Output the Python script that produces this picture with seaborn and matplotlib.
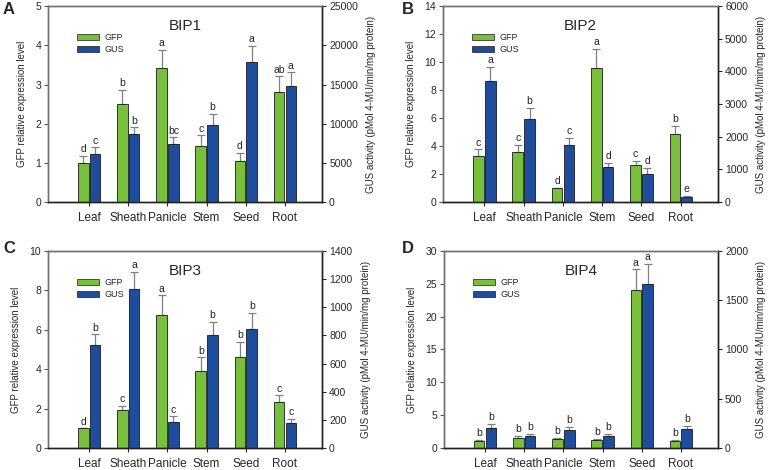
import matplotlib
matplotlib.use('Agg')  # Use non-GUI backend

import matplotlib.pyplot as plt
import matplotlib.patches as mpatches
from matplotlib.colors import to_rgb
import seaborn as sns
import pandas as pd
import numpy as np

sns.set_style('white')
plt.rcParams['font.family'] = ['Liberation Sans', 'DejaVu Sans']

tissues = ['Leaf', 'Sheath', 'Panicle', 'Stem', 'Seed', 'Root']
series = ['GFP', 'GUS']
colors = {'GFP': '#78bf3c', 'GUS': '#1f4d9e'}

# BIP1
bip1_gfp = [1.00, 2.50, 3.41, 1.43, 1.06, 2.81]
bip1_gfp_err = [0.18, 0.36, 0.48, 0.27, 0.19, 0.40]
bip1_gus = [6100, 8700, 7350, 9850, 17850, 14800]
bip1_gus_err = [900, 850, 900, 1400, 2050, 1750]
bip1_gfp_letters = ['d', 'b', 'a', 'c', 'd', 'ab']
bip1_gus_letters = ['c', 'b', 'bc', 'b', 'a', 'a']

# BIP2
bip2_gfp = [3.30, 3.56, 1.00, 9.60, 2.63, 4.84]
bip2_gfp_err = [0.47, 0.54, 0.0, 1.34, 0.34, 0.62]
bip2_gus = [3710, 2555, 1755, 1065, 875, 165]
bip2_gus_err = [430, 335, 215, 140, 165, 30]
bip2_gfp_letters = ['c', 'c', 'd', 'a', 'c', 'b']
bip2_gus_letters = ['a', 'b', 'c', 'd', 'd', 'e']

# BIP3
bip3_gfp = [1.00, 1.93, 6.74, 3.90, 4.63, 2.33]
bip3_gfp_err = [0.0, 0.20, 1.01, 0.70, 0.77, 0.34]
bip3_gus = [735, 1128, 187, 806, 842, 178]
bip3_gus_err = [72, 125, 38, 88, 116, 31]
bip3_gfp_letters = ['d', 'c', 'a', 'b', 'b', 'c']
bip3_gus_letters = ['b', 'a', 'c', 'b', 'b', 'c']

# BIP4
bip4_gfp = [1.10, 1.57, 1.37, 1.27, 24.0, 1.10]
bip4_gfp_err = [0.10, 0.23, 0.13, 0.08, 3.2, 0.10]
bip4_gus = [207, 120, 180, 123, 1660, 193]
bip4_gus_err = [37, 20, 33, 23, 207, 30]
bip4_gfp_letters = ['b', 'b', 'b', 'b', 'a', 'b']
bip4_gus_letters = ['b', 'b', 'b', 'b', 'a', 'b']


def add_errors(ax, color, values, errs, letters):
    # find the bars seaborn drew for this series
    bars = [p for p in ax.patches
            if isinstance(p, mpatches.Rectangle) and p.get_height() > 0
            and np.allclose(p.get_facecolor()[:3], to_rgb(color), atol=0.02)]
    xs = sorted(set(round(b.get_x() + b.get_width() / 2, 6) for b in bars))
    ax.errorbar(xs, values, yerr=[[0] * len(errs), errs], fmt='none',
                ecolor='#808080', elinewidth=0.9, capsize=3, capthick=0.9, zorder=1)
    for x, v, e, t in zip(xs, values, errs, letters):
        ax.annotate(t, (x, v + e), xytext=(0, 1.2), textcoords='offset points',
                    ha='center', va='bottom', fontsize=7.5, color='#222222')


def draw_panel(ax, title, gfp, gfp_err, gus, gus_err, gfp_let, gus_let,
               left_max, left_step, right_max, right_step):
    ax2 = ax.twinx()
    df_gfp = pd.DataFrame({'tissue': tissues, 'value': gfp, 'series': 'GFP'})
    df_gus = pd.DataFrame({'tissue': tissues, 'value': gus, 'series': 'GUS'})
    for a, df in ((ax, df_gfp), (ax2, df_gus)):
        sns.barplot(data=df, x='tissue', y='value', hue='series', order=tissues,
                    hue_order=series, palette=colors, width=0.6, gap=0.1,
                    dodge=True, saturation=1, edgecolor='#1a1a1a', linewidth=0.6,
                    errorbar=None, legend=False, ax=a, zorder=2)
    add_errors(ax, colors['GFP'], gfp, gfp_err, gfp_let)
    add_errors(ax2, colors['GUS'], gus, gus_err, gus_let)

    ax.set_xlim(-1.05, 5.95)
    ax.set_ylim(0, left_max)
    ax2.set_ylim(0, right_max)
    ax.set_yticks(range(0, left_max + 1, left_step))
    ax2.set_yticks(range(0, right_max + 1, right_step))
    ax.set_xticks(range(len(tissues)))
    ax.set_xticklabels(tissues)
    ax.set_xlabel('')
    ax2.set_xlabel('')
    ax.set_ylabel('GFP relative expression level', fontsize=7, labelpad=6)
    ax2.set_ylabel('GUS activity (pMol 4-MU/min/mg protein)', fontsize=7, labelpad=6)

    ax.tick_params(axis='y', direction='out', length=3, width=0.8, labelsize=7.5,
                   color='#555555', left=True, pad=2)
    ax.tick_params(axis='x', direction='out', length=3, width=0.8, labelsize=8.5,
                   bottom=True, pad=4)
    ax2.tick_params(axis='y', direction='out', length=3, width=0.8, labelsize=7.5,
                    right=True, pad=2)

    for a in (ax, ax2):
        for sp in ['left', 'top']:
            a.spines[sp].set_color('#707070')
        for sp in ['right', 'bottom']:
            a.spines[sp].set_color('#222222')
        for sp in a.spines.values():
            sp.set_visible(True)
            sp.set_linewidth(1.0)

    ax.text(0.5, 0.9, title, transform=ax.transAxes, ha='center', va='center',
            fontsize=11)
    handles = [mpatches.Patch(facecolor=colors[s], edgecolor='#1a1a1a',
                              linewidth=0.5, label=s) for s in series]
    ax2.legend(handles=handles, loc='upper left', bbox_to_anchor=(0.09, 0.885),
               frameon=False, fontsize=6.5, handlelength=2.4, handleheight=0.6,
               labelspacing=0.35, handletextpad=0.6, borderpad=0)
    return ax2


fig = plt.figure(figsize=(7.68, 4.7), dpi=100)
axA = fig.add_axes([0.0625, 0.570, 0.357, 0.417])
axB = fig.add_axes([0.577, 0.570, 0.358, 0.417])
axC = fig.add_axes([0.0625, 0.047, 0.357, 0.419])
axD = fig.add_axes([0.578, 0.047, 0.357, 0.419])

draw_panel(axA, 'BIP1', bip1_gfp, bip1_gfp_err, bip1_gus, bip1_gus_err,
           bip1_gfp_letters, bip1_gus_letters, 5, 1, 25000, 5000)
draw_panel(axB, 'BIP2', bip2_gfp, bip2_gfp_err, bip2_gus, bip2_gus_err,
           bip2_gfp_letters, bip2_gus_letters, 14, 2, 6000, 1000)
draw_panel(axC, 'BIP3', bip3_gfp, bip3_gfp_err, bip3_gus, bip3_gus_err,
           bip3_gfp_letters, bip3_gus_letters, 10, 2, 1400, 200)
draw_panel(axD, 'BIP4', bip4_gfp, bip4_gfp_err, bip4_gus, bip4_gus_err,
           bip4_gfp_letters, bip4_gus_letters, 30, 5, 2000, 500)

for lab, x, y in [('A', 0.004, 0.995), ('B', 0.523, 0.995),
                  ('C', 0.004, 0.488), ('D', 0.523, 0.488)]:
    fig.text(x, y, lab, fontsize=12, fontweight='bold', ha='left', va='top')

fig.savefig('out.png', dpi=100)
plt.close(fig)
